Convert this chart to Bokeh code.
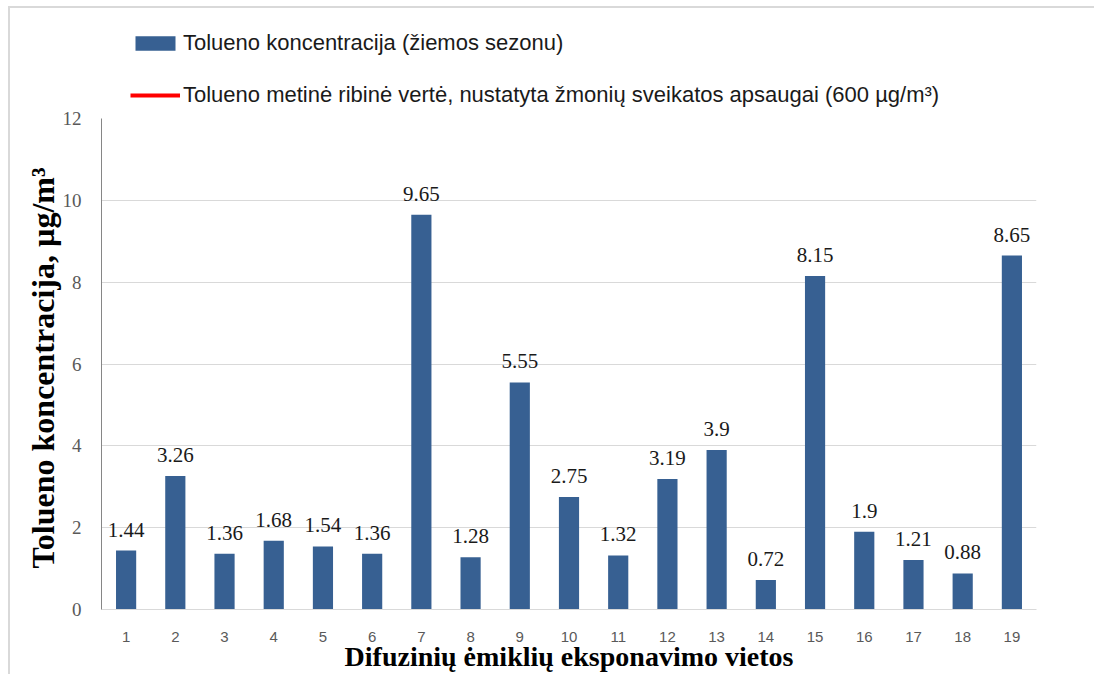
from bokeh.plotting import figure
from bokeh.layouts import column
from bokeh.models import ColumnDataSource, LabelSet, Legend, LegendItem, FactorRange, Range1d, FixedTicker
from bokeh.embed import file_html
from bokeh.resources import INLINE

sites = [str(i) for i in range(1, 20)]
toluene = [1.44, 3.26, 1.36, 1.68, 1.54, 1.36, 9.65, 1.28, 5.55, 2.75,
           1.32, 3.19, 3.9, 0.72, 8.15, 1.9, 1.21, 0.88, 8.65]
limit_value = 600
y_ticks = [0, 2, 4, 6, 8, 10, 12]
series_name = "Tolueno koncentracija (žiemos sezonu)"
limit_name = "Tolueno metinė ribinė vertė, nustatyta žmonių sveikatos apsaugai (600 µg/m³)"
x_title = "Difuzinių ėmiklių eksponavimo vietos"
y_title = "Tolueno koncentracija,  µg/m³"

BAR = "#376092"
LIM = "#ff0000"

src = ColumnDataSource(dict(site=sites, val=toluene, label=[str(v) for v in toluene],
                            limit=[limit_value] * len(sites)))

# ---- legend strip above the chart (same series, drawn through its own ranges) ----
lg = figure(x_range=FactorRange(factors=sites), y_range=Range1d(1000, 1100),
            width=1084, height=101, output_backend="svg", toolbar_location=None,
            x_axis_location=None, y_axis_location=None,
            min_border_left=0, min_border_right=0, min_border_top=0, min_border_bottom=0)
lg.outline_line_color = None
lg.border_fill_color = "white"
lg.xgrid.visible = False
lg.ygrid.visible = False
lg_bars = lg.vbar(x="site", top="val", width=0.41, source=src, fill_color=BAR, line_color=None)
lg_line = lg.line(x="site", y="limit", source=src, line_color=LIM, line_width=4)
legend = Legend(items=[LegendItem(label=series_name, renderers=[lg_bars]),
                       LegendItem(label=limit_name, renderers=[lg_line])],
                location=(29, 1), padding=0, margin=0, spacing=26,
                glyph_width=50, glyph_height=18, label_height=21, label_standoff=3,
                label_text_font="Liberation Sans", label_text_font_size="22px",
                label_text_color="#1a1a1a", border_line_color=None, background_fill_alpha=0)
lg.add_layout(legend)

# ---- main chart ----
p = figure(x_range=FactorRange(factors=sites), y_range=Range1d(0, 12),
           width=1084, height=565, output_backend="svg", toolbar_location=None,
           min_border_left=91, min_border_right=58, min_border_top=9, min_border_bottom=65)
p.outline_line_color = None
p.background_fill_color = "white"
p.border_fill_color = "white"

bars = p.vbar(x="site", top="val", width=0.41, source=src, fill_color=BAR, line_color=None)
p.line(x="site", y="limit", source=src, line_color=LIM, line_width=4)

labels = LabelSet(x="site", y="val", text="label", source=src, y_offset=14,
                  text_align="center", text_baseline="bottom",
                  text_font="Liberation Sans", text_font_size="21px", text_color="#1a1a1a")
p.add_layout(labels)

p.xgrid.grid_line_color = None
p.ygrid.grid_line_color = "#d9d9d9"
p.ygrid.ticker = FixedTicker(ticks=y_ticks)
p.yaxis.ticker = FixedTicker(ticks=y_ticks)

for ax in (p.xaxis, p.yaxis):
    ax.major_tick_line_color = None
    ax.minor_tick_line_color = None
    ax.major_label_text_color = "#595959"
    ax.axis_label_text_font = "Liberation Serif"
    ax.axis_label_text_font_style = "bold"
    ax.axis_label_text_color = "#000000"

p.xaxis.major_label_text_font = "Liberation Sans"
p.xaxis.major_label_text_font_size = "15px"
p.yaxis.major_label_text_font = "Liberation Serif"
p.yaxis.major_label_text_font_size = "19px"
p.xaxis.axis_label_text_font_size = "28px"
p.yaxis.axis_label_text_font_size = "32px"

p.xaxis.axis_line_color = "#d9d9d9"
p.yaxis.axis_line_color = "#868686"
p.xaxis.major_label_standoff = 16
p.xaxis.axis_label_standoff = -4
p.yaxis.major_label_standoff = 14
p.yaxis.axis_label_standoff = -1
p.xaxis.axis_label = x_title
p.yaxis.axis_label = y_title

layout = column(lg, p, spacing=0)
layout.styles = {"margin-left": "8px", "margin-top": "6px",
                 "border-top": "2px solid #d9d9d9", "border-left": "2px solid #d9d9d9"}
open("out.html", "w").write(file_html(layout, INLINE))
